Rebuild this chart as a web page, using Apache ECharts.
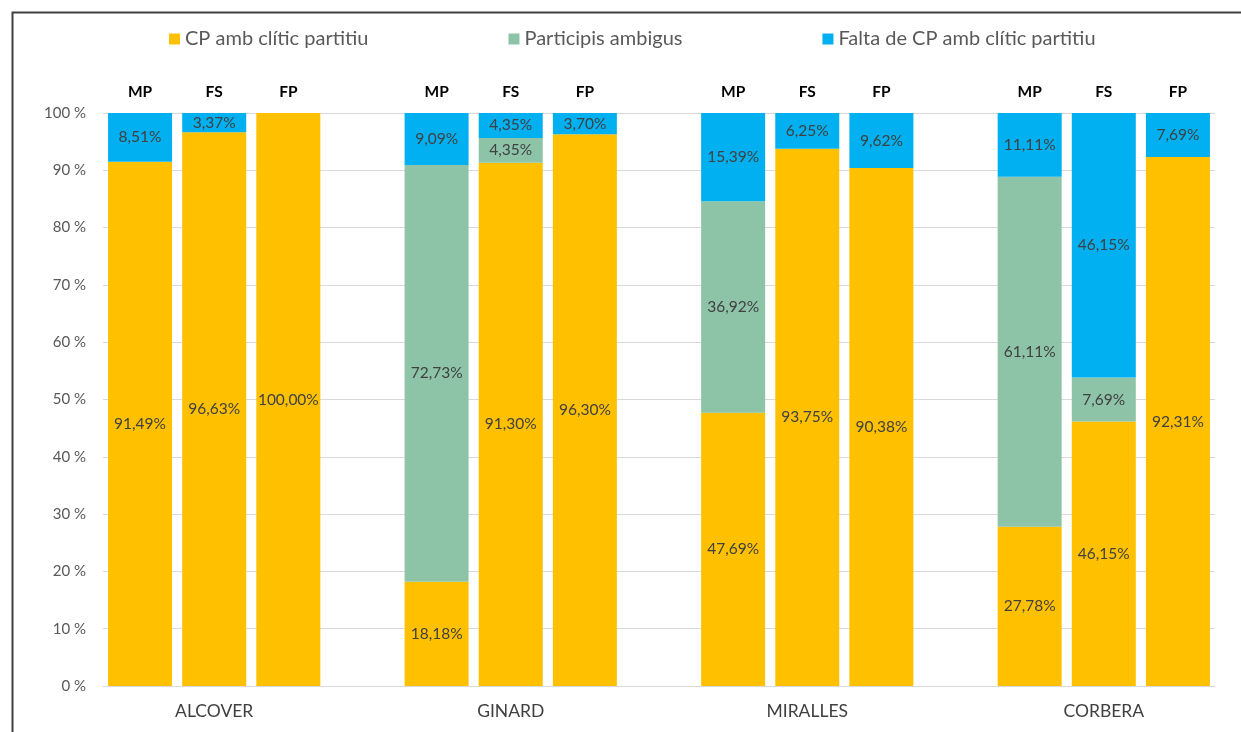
<!DOCTYPE html>
<html>
<head>
<meta charset="utf-8">
<script src="https://cdn.jsdelivr.net/npm/echarts@6/dist/echarts.min.js"></script>
<style>
  html, body { margin: 0; padding: 0; background: #ffffff; }
  #chart { width: 1241px; height: 732px; }
</style>
</head>
<body>
<div id="chart"></div>
<script>
// Speakers (groups) and the three subgroups inside each one
const groups = ['ALCOVER', 'GINARD', 'MIRALLES', 'CORBERA'];
const subgroups = ['MP', 'FS', 'FP'];

// Percentages per group, in subgroup order MP, FS, FP
const cpAmbClitic = [
  [91.49, 96.63, 100.00],
  [18.18, 91.30, 96.30],
  [47.69, 93.75, 90.38],
  [27.78, 46.15, 92.31]
];
const participisAmbigus = [
  [0, 0, 0],
  [72.73, 4.35, 0],
  [36.92, 0, 0],
  [61.11, 7.69, 0]
];
const faltaCP = [
  [8.51, 3.37, 0],
  [9.09, 4.35, 3.70],
  [15.39, 6.25, 9.62],
  [11.11, 46.15, 7.69]
];

const seriesNames = ['CP amb clític partitiu', 'Participis ambigus', 'Falta de CP amb clític partitiu'];
const seriesColors = ['#FFC000', '#8DC4A7', '#00B0F0'];
const yTicks = [0, 100, 10]; // min, max, interval

// One slot per bar, with an empty slot between groups
const slotGroup = [];
const slotSub = [];
groups.forEach((g, gi) => {
  subgroups.forEach((s) => { slotGroup.push(g); slotSub.push(s); });
  if (gi < groups.length - 1) { slotGroup.push(''); slotSub.push(''); }
});
const slotKeys = slotGroup.map((g, i) => i + '');

function flatten(rows) {
  const out = [];
  rows.forEach((r, gi) => {
    r.forEach(v => out.push(v));
    if (gi < rows.length - 1) out.push('-');
  });
  return out;
}

const fmtPct = v => v.toFixed(2).replace('.', ',') + '%';
const FONT = 'Lato, "Open Sans", sans-serif';

const chart = echarts.init(document.getElementById('chart'), null, { renderer: 'canvas' });

const series = [cpAmbClitic, participisAmbigus, faltaCP].map((rows, i) => ({
  name: seriesNames[i],
  type: 'bar',
  stack: 'total',
  barWidth: 64,
  xAxisIndex: 0,
  yAxisIndex: 0,
  itemStyle: { color: seriesColors[i] },
  label: {
    show: true,
    position: 'inside',
    color: '#404040',
    fontFamily: FONT,
    fontSize: 15.5,
    formatter: p => (typeof p.value === 'number' && p.value > 0) ? fmtPct(p.value) : ''
  },
  data: flatten(rows)
}));

chart.setOption({
  animation: false,
  backgroundColor: '#ffffff',
  graphic: [{
    type: 'rect',
    left: 10, top: 10,
    shape: { width: 1300, height: 800 },
    style: { fill: 'none', stroke: '#404040', lineWidth: 2 },
    silent: true
  }],
  legend: {
    top: 24,
    left: 164,
    itemWidth: 11,
    itemHeight: 11,
    itemGap: 140,
    icon: 'rect',
    textStyle: { color: '#595959', fontFamily: FONT, fontSize: 20 },
    data: seriesNames
  },
  grid: {
    left: 103, right: 26, top: 113, bottom: 46,
    containLabel: false,
    outerBoundsMode: 'none'
  },
  xAxis: [{
    type: 'category',
    data: slotKeys,
    position: 'bottom',
    axisLine: { lineStyle: { color: '#D9D9D9', width: 1 } },
    axisTick: { show: false },
    axisLabel: {
      interval: 0,
      margin: 16,
      color: '#404040',
      fontFamily: FONT,
      fontSize: 17.5,
      formatter: (v, idx) => (slotSub[idx] === 'FS' ? slotGroup[idx] : '')
    }
  }, {
    type: 'category',
    data: slotKeys,
    position: 'top',
    axisLine: { show: false },
    axisTick: { show: false },
    axisLabel: {
      interval: 0,
      margin: 13,
      color: '#000000',
      fontWeight: 'bold',
      fontFamily: FONT,
      fontSize: 15.5,
      formatter: (v, idx) => slotSub[idx]
    }
  }],
  yAxis: {
    type: 'value',
    min: yTicks[0],
    max: yTicks[1],
    interval: yTicks[2],
    axisLine: { show: false },
    axisTick: { show: false },
    splitLine: { lineStyle: { color: '#D9D9D9', width: 1 } },
    axisLabel: {
      margin: 17,
      color: '#595959',
      fontFamily: FONT,
      fontSize: 15,
      formatter: '{value} %'
    }
  },
  series: series
});
</script>
</body>
</html>
